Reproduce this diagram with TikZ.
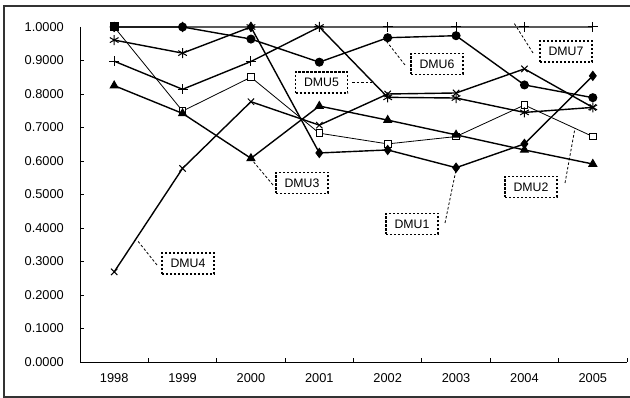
\documentclass[tikz,border=0pt]{standalone}
\usepackage{fontspec}
\setmainfont{Liberation Sans}
\usetikzlibrary{plotmarks}
\tikzset{
  series/.style={line width=1.4pt, black, mark options={solid, line width=1pt}},
  thinseries/.style={line width=0.8pt, black, mark options={solid, line width=0.9pt, fill=white}},
  labbox/.style={draw, dashed, dash pattern=on 2.4pt off 1.6pt, line width=1.1pt, minimum width=52pt, minimum height=21pt, inner sep=0pt, font=\fontsize{12.3}{13}\selectfont},
  leader/.style={dashed, dash pattern=on 2.6pt off 2pt, line width=0.8pt},
  ticklab/.style={font=\fontsize{12.8}{13}\selectfont, inner sep=0pt},
}
\begin{document}
\begin{tikzpicture}[x=1pt,y=1pt]
\useasboundingbox (0,0) rectangle (630,398);
% frame
\draw[line width=1.1pt, black!80] (633,392) -- (4,392) -- (4,1) -- (633,1);
\begin{scope}[shift={(114.19pt,36pt)}, x=68.375pt, y=335pt]
  % axes
  \draw[line width=0.8pt] (-0.5,1) -- (-0.5,0) -- (7.5,0);
  \foreach \v in {0,0.1,...,1.0} \draw[line width=0.8pt] (-0.5,\v) -- ++(4pt,0);
  \foreach \i in {-1,...,7} \draw[line width=0.8pt] (\i+0.5,0) -- ++(0,4pt);
  \foreach \v/\t in {0/0.0000,0.1/0.1000,0.2/0.2000,0.3/0.3000,0.4/0.4000,0.5/0.5000,0.6/0.6000,0.7/0.7000,0.8/0.8000,0.9/0.9000,1/1.0000}
    \node[ticklab, anchor=east] (yl\t) at ([xshift=-16pt]-0.5,\v) {\t};
  \foreach \i/\yr in {0/1998,1/1999,2/2000,3/2001,4/2002,5/2003,6/2004,7/2005}
    \node[ticklab] (xl\yr) at ([yshift=-16pt]\i,0) {\yr};
  % DMU2 (square)
  \draw[thinseries, mark=square*, mark size=3.3pt] plot coordinates {(0,1.0) (1,0.749) (2,0.850) (3,0.683) (4,0.651) (5,0.673) (6,0.767) (7,0.673)};
  % DMU7 (plus)
  \draw[series, mark=+, mark size=5pt] plot coordinates {(0,0.898) (1,0.814) (2,0.897) (3,1.0) (4,1.0) (5,1.0) (6,1.0) (7,1.0)};
  % DMU3 (triangle)
  \draw[series, mark=triangle*, mark size=4.5pt] plot coordinates {(0,0.825) (1,0.742) (2,0.608) (3,0.764) (4,0.722) (5,0.678) (6,0.633) (7,0.591)};
  % DMU4 (x)
  \draw[series, mark=x, mark size=4.5pt] plot coordinates {(0,0.269) (1,0.578) (2,0.777) (3,0.707) (4,0.800) (5,0.803) (6,0.875) (7,0.760)};
  % DMU5 (asterisk)
  \draw[series, mark=asterisk, mark size=5pt] plot coordinates {(0,0.961) (1,0.922) (2,1.0) (3,1.0) (4,0.790) (5,0.788) (6,0.745) (7,0.760)};
  % DMU1 (diamond)
  \draw[series, mark=diamond*, mark size=4.5pt] plot coordinates {(0,1.0) (1,1.0) (2,1.0) (3,0.624) (4,0.633) (5,0.580) (6,0.651) (7,0.854)};
  % DMU6 (circle)
  \draw[series, mark=*, mark size=4pt] plot coordinates {(0,1.0) (1,1.0) (2,0.964) (3,0.895) (4,0.968) (5,0.974) (6,0.827) (7,0.789)};
  % filled square at 1998
  \fill (0,1.0) +(-4.5pt,-4.5pt) rectangle +(4.5pt,4.5pt);
\end{scope}
% labels (pixel coordinates, y measured from bottom)
\node[labbox] (lab7) at (566,346.5) {DMU7};
\node[labbox] (lab6) at (437,334) {DMU6};
\node[labbox] (lab5) at (321.5,315.5) {DMU5};
\node[labbox] (lab3) at (302,215) {DMU3};
\node[labbox] (lab2) at (531,211) {DMU2};
\node[labbox] (lab1) at (412,174) {DMU1};
\node[labbox] (lab4) at (188,134.5) {DMU4};
% leader ends
\coordinate (s7) at (533,345); \coordinate (e7) at (514,375);
\coordinate (s6) at (405,333); \coordinate (e6) at (387,356);
\coordinate (s5) at (352,316); \coordinate (e5) at (372,316);
\coordinate (s3) at (273,213); \coordinate (e3) at (252,238);
\coordinate (s2) at (565,215); \coordinate (e2) at (575,270);
\coordinate (s1) at (445,175); \coordinate (e1) at (456,228);
\coordinate (s4) at (157,133); \coordinate (e4) at (137,158);
\foreach \k in {7,6,5,3,2,1,4} \draw[leader] (s\k) -- (e\k);
\end{tikzpicture}
\end{document}
